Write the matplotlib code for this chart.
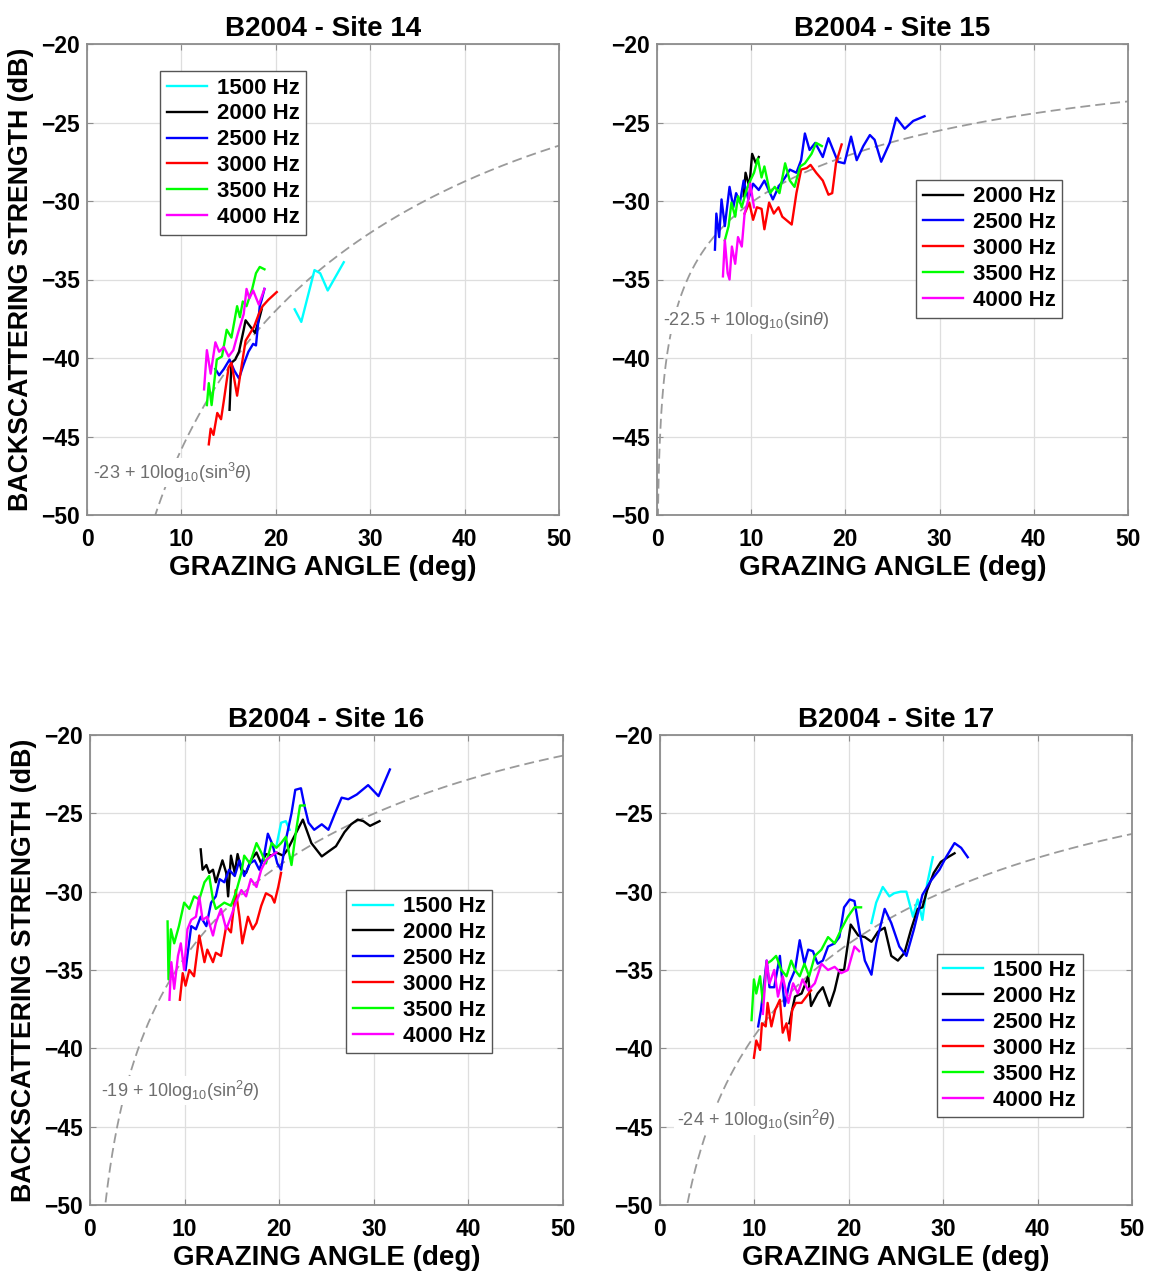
import numpy as np
import matplotlib
matplotlib.use("Agg")
import matplotlib.pyplot as plt

plt.rcParams['font.family'] = ['Liberation Sans', 'DejaVu Sans']
plt.rcParams['mathtext.fontset'] = 'custom'
plt.rcParams['mathtext.rm'] = 'Liberation Sans'
plt.rcParams['mathtext.it'] = 'Liberation Sans:italic'
plt.rcParams['mathtext.bf'] = 'Liberation Sans:bold'

# ---------------- data ----------------
freq_labels = ['1500 Hz', '2000 Hz', '2500 Hz', '3000 Hz', '3500 Hz', '4000 Hz']
freq_colors = ['#00ffff', '#000000', '#0000ff', '#ff0000', '#00ff00', '#ff00ff']

site_titles = ['B2004 - Site 14', 'B2004 - Site 15', 'B2004 - Site 16', 'B2004 - Site 17']
model_offsets = [-23.0, -22.5, -19.0, -24.0]
model_powers = [3, 1, 2, 2]
model_labels = [r'-23 + 10log$_{10}$(sin$^{3}\theta$)',
                r'-22.5 + 10log$_{10}$(sin$\theta$)',
                r'-19 + 10log$_{10}$(sin$^{2}\theta$)',
                r'-24 + 10log$_{10}$(sin$^{2}\theta$)']
label_xy = [(0.6, -47.3), (0.6, -37.6), (1.2, -42.7), (1.8, -44.6)]
legend_anchor = [(0.155, 0.943), (0.55, 0.712), (0.542, 0.671), (0.586, 0.535)]

# Site 14
s14_1500_x = [22.0, 22.7, 24.1, 24.7, 25.5, 27.2]
s14_1500_y = [-36.9, -37.7, -34.4, -34.6, -35.7, -33.9]
s14_2000_x = [15.1, 15.3, 15.7, 16.1, 16.6, 16.8, 17.3, 17.8, 18.2, 18.5]
s14_2000_y = [-43.3, -40.3, -40.1, -39.6, -38.2, -37.6, -38.0, -38.4, -37.6, -36.9]
s14_2500_x = [13.6, 14.0, 14.5, 15.1, 15.6, 16.1, 16.6, 17.1, 17.6, 17.9, 18.3, 18.5, 18.8]
s14_2500_y = [-40.7, -41.1, -40.7, -40.1, -40.8, -41.3, -40.4, -39.6, -39.1, -39.2, -36.7, -36.3, -35.6]
s14_3000_x = [12.9, 13.1, 13.4, 13.8, 14.2, 14.5, 15.0, 15.3, 15.9, 16.3, 16.8, 17.3, 17.7, 18.2, 18.6, 19.2, 20.1]
s14_3000_y = [-45.5, -44.5, -44.9, -43.5, -43.9, -42.7, -40.6, -40.3, -42.4, -40.8, -38.9, -38.4, -38.0, -37.2, -36.7, -36.3, -35.8]
s14_3500_x = [12.7, 12.9, 13.2, 13.75, 14.3, 14.8, 15.3, 15.9, 16.2, 16.5, 16.9, 17.5, 17.9, 18.3, 18.8]
s14_3500_y = [-43.0, -41.6, -43.0, -40.1, -39.9, -38.2, -38.7, -36.7, -37.4, -36.4, -36.7, -35.6, -34.6, -34.2, -34.35]
s14_4000_x = [12.4, 12.7, 13.1, 13.6, 14.0, 14.5, 15.0, 15.5, 16.0, 16.6, 16.9, 17.2, 17.6, 18.2, 18.8]
s14_4000_y = [-42.0, -39.5, -41.0, -39.0, -39.6, -39.3, -39.9, -39.5, -38.4, -37.2, -35.6, -36.2, -35.7, -36.6, -35.6]

# Site 15
s15_2000_x = [9.2, 9.4, 9.8, 10.1, 10.5, 10.8]
s15_2000_y = [-29.7, -28.2, -29.1, -27.0, -27.6, -27.2]
s15_2500_x = [6.15, 6.3, 6.6, 6.85, 7.2, 7.7, 8.1, 8.4, 8.8, 9.2, 9.7, 10.2, 10.8, 11.4, 12.3, 12.9,
              13.6, 14.1, 14.8, 15.3, 15.7, 16.2, 16.8, 17.6, 18.2, 18.7, 19.2, 19.9, 20.6, 21.2,
              21.9, 22.6, 23.1, 23.8, 24.7, 25.4, 26.3, 27.2, 28.4]
s15_2500_y = [-33.1, -30.8, -32.3, -29.9, -31.6, -29.1, -30.4, -29.5, -30.1, -28.7, -29.9, -28.9,
              -29.3, -28.7, -29.9, -29.1, -28.5, -28.0, -28.2, -27.4, -25.7, -26.75, -26.3, -27.2,
              -26.0, -26.75, -27.5, -27.6, -25.9, -27.4, -26.5, -25.8, -26.1, -27.5, -26.3, -24.7,
              -25.4, -24.9, -24.6]
s15_3000_x = [9.3, 9.8, 10.2, 10.6, 11.1, 11.4, 11.9, 12.4, 12.9, 13.3, 14.3, 14.8, 15.3, 15.9,
              16.3, 16.9, 17.6, 18.2, 18.6, 19.0, 19.6]
s15_3000_y = [-30.8, -30.1, -31.2, -30.4, -30.5, -31.8, -30.1, -30.8, -30.4, -31.0, -31.5, -29.5,
              -28.0, -27.9, -27.7, -28.2, -28.7, -29.6, -29.5, -27.6, -26.4]
s15_3500_x = [7.2, 7.6, 7.9, 8.3, 8.6, 9.0, 9.5, 9.9, 10.3, 10.7, 11.1, 11.4, 12.0, 12.5, 13.0,
              13.6, 14.1, 14.6, 15.2, 15.7, 16.4, 16.9, 17.5]
s15_3500_y = [-32.5, -31.6, -30.1, -31.0, -29.7, -30.4, -29.3, -28.7, -28.2, -27.3, -28.5, -27.8,
              -29.5, -29.1, -29.5, -27.6, -28.7, -29.1, -27.8, -27.6, -27.0, -26.3, -26.5]
s15_4000_x = [7.0, 7.2, 7.5, 7.7, 7.95, 8.3, 8.6, 9.0, 9.3, 9.7, 9.9, 10.3]
s15_4000_y = [-34.8, -32.5, -34.6, -35.0, -32.9, -34.0, -32.3, -32.9, -30.8, -29.9, -28.9, -30.4]

# Site 16
s16_1500_x = [19.7, 20.2, 20.7, 21.1]
s16_1500_y = [-27.1, -25.6, -25.5, -26.05]
s16_2000_x = [11.7, 11.9, 12.3, 12.6, 13.0, 13.3, 13.7, 14.0, 14.4, 14.6, 14.9, 15.3, 15.6, 16.0,
              16.5, 17.0, 17.6, 18.1, 18.6, 19.2, 19.7, 20.4, 20.9, 21.4, 22.5, 23.4, 24.5, 25.3,
              26.0, 26.9, 27.6, 28.3, 28.9, 29.6, 30.6]
s16_2000_y = [-27.3, -28.6, -28.3, -28.8, -28.6, -29.4, -28.6, -28.0, -28.8, -30.3, -27.7, -28.8,
              -27.6, -28.6, -28.8, -28.0, -27.5, -28.2, -27.6, -27.7, -27.5, -27.7, -27.3, -26.7,
              -25.4, -26.9, -27.75, -27.4, -27.1, -26.2, -25.7, -25.4, -25.5, -25.8, -25.5]
s16_2500_x = [10.1, 10.7, 11.2, 11.7, 12.3, 12.8, 13.3, 13.7, 14.2, 14.7, 15.3, 15.8, 16.3, 16.9,
              17.4, 17.9, 18.4, 18.8, 19.3, 19.8, 20.2, 20.7, 21.3, 21.7, 22.3, 22.7, 23.1, 23.7,
              24.5, 25.2, 25.9, 26.6, 27.3, 28.2, 29.4, 30.5, 31.7]
s16_2500_y = [-35.0, -32.2, -32.4, -31.6, -32.2, -30.7, -30.3, -29.2, -29.4, -28.6, -29.0, -28.0,
              -29.0, -28.2, -28.0, -28.6, -27.7, -26.3, -27.0, -28.2, -28.6, -26.7, -25.0, -23.5,
              -23.4, -24.6, -25.6, -26.05, -25.7, -26.05, -25.0, -24.0, -24.1, -23.8, -23.2, -23.9,
              -22.2]
s16_3000_x = [9.5, 9.8, 10.1, 10.5, 11.0, 11.55, 12.1, 12.4, 13.0, 13.3, 13.85, 14.4, 14.9, 15.4,
              15.8, 16.1, 16.7, 17.2, 17.6, 18.1, 18.6, 19.2, 19.5, 19.9, 20.2]
s16_3000_y = [-36.9, -35.2, -36.0, -35.0, -35.4, -32.8, -34.5, -33.7, -34.5, -33.9, -34.1, -32.2,
              -32.6, -29.9, -31.6, -33.3, -31.6, -32.4, -32.0, -30.9, -30.1, -30.3, -30.7, -29.7,
              -28.8]
s16_3500_x = [8.2, 8.3, 8.55, 8.9, 9.4, 9.95, 10.5, 11.0, 11.55, 12.1, 12.6, 13.0, 13.3, 14.2,
              14.9, 15.4, 16.0, 16.3, 16.9, 17.6, 18.1, 18.6, 19.2, 19.7, 20.2, 20.7, 21.3, 21.8,
              22.2, 22.7]
s16_3500_y = [-31.9, -35.6, -32.4, -33.3, -32.2, -30.7, -31.1, -30.3, -30.5, -29.4, -29.0, -30.5,
              -31.1, -30.7, -30.9, -30.1, -28.8, -27.7, -28.2, -26.9, -27.5, -28.2, -26.9, -27.2,
              -26.9, -26.5, -28.3, -26.05, -24.5, -24.5]
s16_4000_x = [8.4, 8.6, 8.9, 9.3, 9.6, 9.95, 10.3, 10.7, 11.2, 11.55, 11.9, 12.4, 13.0, 13.3,
              13.85, 14.4, 14.9, 15.4, 16.0, 16.5, 17.0, 17.6, 18.1, 18.6, 19.2, 19.7]
s16_4000_y = [-36.9, -34.5, -36.2, -34.1, -33.3, -35.0, -32.4, -31.8, -31.6, -30.3, -31.8, -31.6,
              -32.8, -32.0, -31.1, -32.4, -31.6, -30.7, -29.9, -30.3, -29.2, -29.7, -28.6, -28.0,
              -27.7, -27.5]

# Site 17
s17_1500_x = [22.4, 22.9, 23.6, 24.3, 24.8, 25.5, 26.1, 26.8, 27.3, 27.8, 28.3, 28.9]
s17_1500_y = [-32.0, -30.7, -29.7, -30.3, -30.1, -30.0, -30.0, -31.6, -30.5, -31.8, -29.5, -27.8]
s17_2000_x = [13.7, 14.3, 15.0, 15.7, 16.0, 16.7, 17.25, 17.95, 18.5, 19.0, 19.5, 20.2, 21.0,
              21.7, 22.4, 23.1, 23.8, 24.5, 25.2, 25.9, 26.6, 27.3, 27.8, 28.3, 29.0, 29.75, 30.5,
              31.2]
s17_2000_y = [-38.4, -36.7, -36.5, -35.4, -37.3, -36.5, -36.1, -37.3, -36.3, -35.0, -35.0, -32.1,
              -32.8, -32.9, -33.2, -32.55, -32.3, -34.1, -34.4, -33.9, -32.4, -31.1, -31.0, -29.9,
              -28.8, -28.1, -27.8, -27.55]
s17_2500_x = [10.4, 10.7, 11.3, 11.6, 12.1, 12.7, 13.2, 13.7, 14.3, 14.8, 15.3, 15.7, 16.2, 16.7,
              17.25, 17.8, 18.5, 19.0, 19.5, 20.1, 20.6, 21.1, 21.7, 22.4, 22.9, 23.8, 24.5, 25.35,
              26.1, 26.9, 27.8, 28.7, 29.6, 30.3, 31.2, 31.9, 32.6]
s17_2500_y = [-38.6, -37.55, -34.4, -36.1, -36.1, -34.1, -37.3, -35.85, -35.0, -33.1, -34.6, -33.7,
              -33.8, -34.6, -34.4, -33.5, -33.3, -32.9, -31.0, -30.5, -30.6, -32.4, -34.4, -35.3,
              -33.3, -31.1, -32.0, -33.5, -34.1, -32.4, -30.2, -29.3, -28.6, -27.8, -26.9, -27.2,
              -27.8]
s17_3000_x = [9.95, 10.2, 10.6, 10.8, 11.2, 11.4, 11.8, 12.2, 12.7, 13.0, 13.4, 13.7, 14.0, 14.4,
              15.0, 15.5, 16.0]
s17_3000_y = [-40.6, -39.5, -40.1, -38.4, -38.6, -37.1, -38.6, -37.55, -36.9, -39.0, -38.4, -39.5,
              -37.55, -37.1, -37.1, -36.7, -36.3]
s17_3500_x = [9.7, 9.95, 10.2, 10.6, 10.9, 11.3, 11.8, 12.3, 12.85, 13.4, 13.9, 14.3, 14.8, 15.3,
              15.8, 16.4, 17.1, 17.8, 18.5, 19.2, 19.9, 20.6, 21.3]
s17_3500_y = [-38.2, -35.6, -36.5, -35.4, -37.1, -34.6, -34.4, -34.1, -35.0, -35.4, -34.4, -35.0,
              -35.4, -34.6, -35.4, -34.1, -33.7, -32.9, -33.3, -32.4, -31.6, -31.0, -31.0]
s17_4000_x = [10.9, 11.3, 11.6, 12.1, 12.5, 13.0, 13.6, 14.1, 14.6, 15.1, 15.7, 16.4, 17.1, 17.8,
              18.5, 19.2, 19.9, 20.6, 21.1]
s17_4000_y = [-37.8, -34.4, -35.85, -35.0, -36.7, -35.4, -37.1, -35.85, -36.5, -35.6, -36.3,
              -35.85, -34.6, -35.0, -34.8, -35.2, -35.0, -33.5, -33.8]

site_series = [
    {'1500 Hz': (s14_1500_x, s14_1500_y), '2000 Hz': (s14_2000_x, s14_2000_y),
     '2500 Hz': (s14_2500_x, s14_2500_y), '3000 Hz': (s14_3000_x, s14_3000_y),
     '3500 Hz': (s14_3500_x, s14_3500_y), '4000 Hz': (s14_4000_x, s14_4000_y)},
    {'2000 Hz': (s15_2000_x, s15_2000_y), '2500 Hz': (s15_2500_x, s15_2500_y),
     '3000 Hz': (s15_3000_x, s15_3000_y), '3500 Hz': (s15_3500_x, s15_3500_y),
     '4000 Hz': (s15_4000_x, s15_4000_y)},
    {'1500 Hz': (s16_1500_x, s16_1500_y), '2000 Hz': (s16_2000_x, s16_2000_y),
     '2500 Hz': (s16_2500_x, s16_2500_y), '3000 Hz': (s16_3000_x, s16_3000_y),
     '3500 Hz': (s16_3500_x, s16_3500_y), '4000 Hz': (s16_4000_x, s16_4000_y)},
    {'1500 Hz': (s17_1500_x, s17_1500_y), '2000 Hz': (s17_2000_x, s17_2000_y),
     '2500 Hz': (s17_2500_x, s17_2500_y), '3000 Hz': (s17_3000_x, s17_3000_y),
     '3500 Hz': (s17_3500_x, s17_3500_y), '4000 Hz': (s17_4000_x, s17_4000_y)},
]

x_ticks = [0, 10, 20, 30, 40, 50]
y_ticks = [-50, -45, -40, -35, -30, -25, -20]

# ---------------- figure ----------------
W, H = 1151, 1276
fig = plt.figure(figsize=(W / 100, H / 100), dpi=100)

axes_px = [(87, 44, 559, 515), (657, 44, 1128, 515),
           (90, 735, 563, 1205), (660, 735, 1132, 1205)]

spine_col = '#8c8c8c'
for i, (l, t, r, b) in enumerate(axes_px):
    ax = fig.add_axes([l / W, 1 - b / H, (r - l) / W, (b - t) / H])
    ax.set_xlim(0, 50)
    ax.set_ylim(-50, -20)
    ax.set_xticks(x_ticks)
    ax.set_yticks(y_ticks)
    ax.grid(True, color='#dedede', lw=0.9, zorder=0)
    ax.set_axisbelow(True)
    for s in ax.spines.values():
        s.set_color(spine_col)
        s.set_linewidth(1.3)
    ax.tick_params(direction='in', length=4, width=0.8, color=spine_col,
                   top=True, right=True, labelsize=16.5, labelcolor='black')
    ax.tick_params(axis='x', pad=9)
    ax.tick_params(axis='y', pad=5)
    for lab in ax.get_xticklabels() + ax.get_yticklabels():
        lab.set_fontweight('bold')

    # model curve
    th = np.linspace(0.05, 50, 800)
    model = model_offsets[i] + 10 * model_powers[i] * np.log10(np.sin(np.deg2rad(th)))
    ax.plot(th, model, color='#9a9a9a', lw=1.3, dashes=(5.5, 2.8), zorder=2)

    handles = []
    for lab, col in zip(freq_labels, freq_colors):
        if lab in site_series[i]:
            xs, ys = site_series[i][lab]
            h, = ax.plot(xs, ys, color=col, lw=1.7, label=lab, zorder=3)
            handles.append(h)

    ax.text(label_xy[i][0], label_xy[i][1], model_labels[i], fontsize=13,
            color='#6e6e6e', ha='left', va='center', zorder=4,
            bbox=dict(facecolor='white', edgecolor='none', pad=2))

    leg = ax.legend(handles=handles, loc='upper left', bbox_to_anchor=legend_anchor[i],
                    borderaxespad=0, frameon=True, fancybox=False, framealpha=1,
                    edgecolor='#555555', prop={'weight': 'bold', 'size': 16},
                    handlelength=1.8, handletextpad=0.45, labelspacing=0.22,
                    borderpad=0.3)
    leg.get_frame().set_linewidth(1.0)
    leg.set_zorder(5)

    ax.set_title(site_titles[i], fontsize=20, fontweight='bold', pad=6)
    ax.set_xlabel('GRAZING ANGLE (deg)', fontsize=20, fontweight='bold', labelpad=3)
    if i in (0, 2):
        ax.set_ylabel('BACKSCATTERING STRENGTH (dB)', fontsize=19.3, fontweight='bold',
                      labelpad=5)

fig.savefig('out.png', dpi=100, facecolor='white')
